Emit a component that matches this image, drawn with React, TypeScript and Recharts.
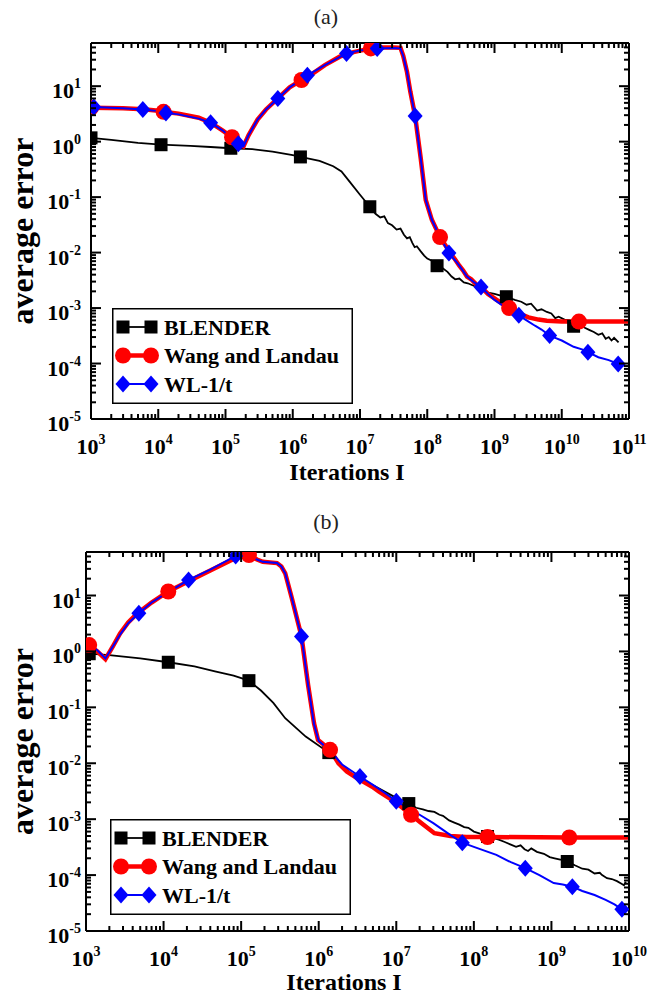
import React from 'react';
import { ComposedChart, Line, XAxis, YAxis, Legend, Label } from 'recharts';

type Pt = [number, number];

// axes
const xMajorA = [1e3, 1e4, 1e5, 1e6, 1e7, 1e8, 1e9, 1e10, 1e11];
const xMajorB = [1e3, 1e4, 1e5, 1e6, 1e7, 1e8, 1e9, 1e10];
const yMajor = [1e-5, 1e-4, 1e-3, 1e-2, 1e-1, 1, 10];
const yMax = 60;

const seriesNames = ['BLENDER', 'Wang and Landau', 'WL-1/t'];

// panel (a)
const blenderA: Pt[] = [
  [1e3, 1.17], [2e3, 1.08], [5e3, 0.95], [1.1e4, 0.88], [3e4, 0.84], [6e4, 0.8], [1.2e5, 0.76],
  [2.5e5, 0.73], [5e5, 0.66], [1e6, 0.57], [1.3e6, 0.53], [2.5e6, 0.45], [4e6, 0.36], [5.3e6, 0.29],
  [7e6, 0.19], [1e7, 0.11], [1.4e7, 0.067], [1.7e7, 0.05], [2e7, 0.043], [2.3e7, 0.045], [2.6e7, 0.034],
  [3e7, 0.031], [3.5e7, 0.026], [4e7, 0.027], [4.5e7, 0.021], [5e7, 0.018], [5.5e7, 0.019], [6e7, 0.015],
  [6.5e7, 0.0125], [7e7, 0.013], [8e7, 0.0105], [9e7, 0.0088], [1e8, 0.0078], [1.15e8, 0.0072],
  [1.4e8, 0.0058], [1.7e8, 0.0052], [2e8, 0.0045], [2.3e8, 0.0037], [2.6e8, 0.0033], [3e8, 0.0034],
  [3.5e8, 0.0029], [4e8, 0.0028], [5e8, 0.0025], [6e8, 0.0022], [7e8, 0.0021], [8e8, 0.0019],
  [1e9, 0.0018], [1.2e9, 0.0017], [1.5e9, 0.0016], [2e9, 0.0014], [2.5e9, 0.0013], [3e9, 0.00115],
  [3.5e9, 0.0012], [4.3e9, 0.0009], [5e9, 0.00095], [6e9, 0.00085], [7e9, 0.0008], [8e9, 0.00066],
  [9e9, 0.0007], [1.1e10, 0.00062], [1.3e10, 0.0006], [1.5e10, 0.00047], [1.8e10, 0.00052],
  [2.2e10, 0.00044], [2.6e10, 0.0004], [3e10, 0.00037], [3.5e10, 0.00033], [4e10, 0.00035],
  [4.5e10, 0.00028], [5e10, 0.0003], [5.5e10, 0.00026], [6e10, 0.00029], [7e10, 0.00024],
];
const blenderAMarks = [1e3, 1.1e4, 1.2e5, 1.3e6, 1.4e7, 1.4e8, 1.5e9, 1.5e10];

const wangA: Pt[] = [
  [1e3, 4.1], [3e3, 4.0], [6e3, 3.85], [1e4, 3.6], [1.2e4, 3.45], [2e4, 3.2], [4e4, 2.7], [6e4, 2.2],
  [9e4, 1.6], [1.25e5, 1.2], [1.6e5, 0.9], [1.85e5, 0.82], [2.2e5, 1.3], [3e5, 2.5], [4e5, 3.8],
  [6e5, 6.0], [9e5, 9.5], [1.35e6, 12.9], [2e6, 17], [3e6, 24], [5e6, 34], [8e6, 41], [1.45e7, 48],
  [2e7, 50], [3.2e7, 50], [4e7, 49], [4.4e7, 35], [5e7, 18], [5.6e7, 8], [6.6e7, 2.9], [8e7, 0.5],
  [9.5e7, 0.089], [1.17e8, 0.039], [1.55e8, 0.019], [1.9e8, 0.013], [2.2e8, 0.0098], [2.6e8, 0.0075],
  [3e8, 0.0058], [3.4e8, 0.0048], [3.9e8, 0.0037], [4.5e8, 0.0033], [5.3e8, 0.0027], [6.3e8, 0.0024],
  [8e8, 0.0018], [1e9, 0.0015], [1.3e9, 0.0012], [1.65e9, 0.001], [2.2e9, 0.00082], [3.2e9, 0.00068],
  [4.5e9, 0.00062], [6e9, 0.00059], [1e10, 0.00057], [1.8e10, 0.00057], [1e11, 0.00057],
];
const wangAMarks = [1e3, 1.2e4, 1.25e5, 1.35e6, 1.45e7, 1.55e8, 1.65e9, 1.8e10];

const wl1tA: Pt[] = [
  [1e3, 4.2], [1.1e3, 4.2], [3e3, 4.0], [5.9e3, 3.8], [1e4, 3.55], [1.3e4, 3.3], [2e4, 3.1], [4e4, 2.6],
  [6e4, 2.2], [9e4, 1.6], [1.25e5, 1.15], [1.55e5, 0.92], [1.85e5, 0.82], [2.2e5, 1.3], [3e5, 2.5],
  [4e5, 3.8], [6e5, 6.0], [9e5, 9.5], [1.3e6, 13], [1.65e6, 15.7], [3e6, 24], [6.3e6, 39], [1e7, 44],
  [1.8e7, 48], [3.2e7, 49], [4e7, 48], [4.4e7, 35], [5e7, 18], [5.6e7, 8], [6.6e7, 2.9], [8e7, 0.5],
  [9.5e7, 0.089], [1.17e8, 0.039], [1.55e8, 0.019], [2.1e8, 0.0098], [2.6e8, 0.0072], [3e8, 0.0058],
  [3.9e8, 0.0037], [5e8, 0.0029], [6.3e8, 0.0024], [8e8, 0.0018], [1e9, 0.0014], [1.5e9, 0.001],
  [2.3e9, 0.00074], [3e9, 0.0006], [4e9, 0.00048], [5e9, 0.00041], [6.6e9, 0.00032], [8e9, 0.00029],
  [1e10, 0.00026], [1.5e10, 0.0002], [2e10, 0.00018], [2.45e10, 0.00016], [3.5e10, 0.00013],
  [5e10, 0.000115], [6.9e10, 0.000098], [8.7e10, 0.000091],
];
const wl1tAMarks = [1.1e3, 5.9e3, 1.3e4, 6e4, 1.55e5, 6e5, 1.65e6, 6.3e6, 1.8e7, 6.6e7, 2.1e8, 6.3e8, 2.3e9, 6.6e9, 2.45e10, 6.9e10];

// panel (b)
const blenderB: Pt[] = [
  [1.1e3, 0.91], [2e3, 0.86], [5e3, 0.75], [1.15e4, 0.64], [2.5e4, 0.54], [4.6e4, 0.44], [8e4, 0.37],
  [1.26e5, 0.3], [1.8e5, 0.2], [2.6e5, 0.12], [3.7e5, 0.064], [6.8e5, 0.03], [1.35e6, 0.0155],
  [2.6e6, 0.0066], [4.9e6, 0.0041], [1e7, 0.0024], [1.45e7, 0.0019], [1.8e7, 0.0016], [2.2e7, 0.0015],
  [2.6e7, 0.0014], [3.1e7, 0.00135], [3.6e7, 0.0012], [4e7, 0.00115], [4.8e7, 0.00095], [5.6e7, 0.00087],
  [6.5e7, 0.0008], [7.5e7, 0.00072], [8.5e7, 0.0007], [1e8, 0.0006], [1.2e8, 0.00055], [1.5e8, 0.00049],
  [1.8e8, 0.00046], [2.1e8, 0.00043], [2.5e8, 0.00039], [3e8, 0.00035], [3.5e8, 0.00032], [4e8, 0.00034],
  [4.5e8, 0.00029], [5e8, 0.00027], [5.5e8, 0.0003], [6.5e8, 0.00026], [8e8, 0.00024], [9.5e8, 0.00021],
  [1.1e9, 0.0002], [1.3e9, 0.00019], [1.6e9, 0.000175], [2e9, 0.00015], [2.5e9, 0.00013], [3e9, 0.000125],
  [3.6e9, 0.000107], [4.2e9, 0.00011], [4.5e9, 0.0001], [5.2e9, 0.000088], [6e9, 0.000085],
  [7e9, 0.000078], [8e9, 0.00007], [8.6e9, 0.000066], [9.1e9, 0.000076],
];
const blenderBMarks = [1.1e3, 1.15e4, 1.26e5, 1.35e6, 1.45e7, 1.5e8, 1.6e9];

const wangB: Pt[] = [
  [1.1e3, 1.3], [1.4e3, 1.0], [1.78e3, 0.73], [2.2e3, 1.2], [2.75e3, 2.1], [3.5e3, 3.3], [4.5e3, 4.7],
  [7e3, 7.5], [1.15e4, 11.8], [2.1e4, 18], [4e4, 28], [8.5e4, 47], [1.26e5, 53], [1.6e5, 44], [1.9e5, 40],
  [2.9e5, 38], [3.3e5, 33], [3.7e5, 25], [4.5e5, 9], [6e5, 1.85], [7.3e5, 0.25], [8.7e5, 0.052],
  [9.8e5, 0.026], [1.4e6, 0.0174], [1.8e6, 0.01], [2.3e6, 0.0071], [3e6, 0.0056], [4.9e6, 0.0038],
  [6e6, 0.0031], [8.9e6, 0.0022], [1.2e7, 0.0016], [1.55e7, 0.0012], [2e7, 0.0009], [3.1e7, 0.00056],
  [5e7, 0.0005], [8e7, 0.00048], [1.5e8, 0.00048], [1.7e9, 0.00047], [1e10, 0.00047],
];
const wangBMarks = [1.1e3, 1.15e4, 1.26e5, 1.4e6, 1.55e7, 1.5e8, 1.7e9];

const wl1tB: Pt[] = [
  [1e3, 1.45], [1.4e3, 1.05], [1.78e3, 0.75], [2.2e3, 1.2], [2.75e3, 2.0], [3.5e3, 3.2], [4.8e3, 4.8],
  [7e3, 7.5], [1.15e4, 11.5], [2.1e4, 19], [4e4, 29], [8.5e4, 51], [1.26e5, 52], [1.6e5, 44], [1.9e5, 40],
  [2.9e5, 38], [3.3e5, 33], [3.7e5, 25], [4.5e5, 9], [6e5, 1.85], [7.3e5, 0.25], [8.7e5, 0.05],
  [1e6, 0.025], [1.4e6, 0.017], [2e6, 0.0095], [3.4e6, 0.0058], [5e6, 0.0041], [7e6, 0.003],
  [1e7, 0.0021], [1.4e7, 0.0016], [2e7, 0.0012], [3e7, 0.00085], [5e7, 0.00052], [7.1e7, 0.00038],
  [1e8, 0.00032], [1.95e8, 0.00023], [3e8, 0.00017], [4.6e8, 0.000133], [7e8, 0.0001], [1.07e9, 0.000072],
  [1.4e9, 0.000068], [1.86e9, 0.000062], [2.5e9, 0.000052], [3.6e9, 0.000044], [5e9, 0.000036],
  [6.5e9, 0.00003], [8.1e9, 0.0000245], [9.5e9, 0.000023],
];
const wl1tBMarks = [4.8e3, 2.1e4, 8.5e4, 6e5, 3.4e6, 1e7, 7.1e7, 4.6e8, 1.86e9, 8.1e9];

const FONT = "'Liberation Serif', 'Times New Roman', serif";
const W = 648;
const H = 498;

type Kind = 'square' | 'circle' | 'diamond';
const styles: Record<string, { stroke: string; width: number; kind: Kind }> = {
  BLENDER: { stroke: '#000000', width: 1.8, kind: 'square' },
  'Wang and Landau': { stroke: '#ff0000', width: 4.5, kind: 'circle' },
  'WL-1/t': { stroke: '#0000ff', width: 2, kind: 'diamond' },
};

const same = (a: number, b: number) => Math.abs(a / b - 1) < 1e-6;

function withMinors(majors: number[], max: number) {
  const out: number[] = [...majors];
  majors.forEach((m) => {
    for (let k = 2; k <= 9; k++) if (m * k <= max * 1.0001) out.push(m * k);
  });
  return out.sort((a, b) => a - b);
}

function Pow10({ x, y, v, anchor }: { x: number; y: number; v: number; anchor: string }) {
  const e = Math.round(Math.log10(v));
  return (
    <text x={x} y={y} textAnchor={anchor as any} fontFamily={FONT} fontWeight="bold" fontSize={22} fill="#000">
      10<tspan fontSize={14} dy={-10}>{String(e)}</tspan>
    </text>
  );
}

const tickFor = (side: string, majors: number[], labelRight = 0) => (props: any) => {
  const { x, y, payload } = props;
  const major = majors.some((m) => same(payload.value, m));
  const len = major ? 10 : 5;
  let x2 = x, y2 = y;
  if (side === 'bottom') y2 = y - len;
  if (side === 'top') y2 = y + len;
  if (side === 'left') x2 = x + len;
  if (side === 'right') x2 = x - len;
  return (
    <g>
      <line x1={x} y1={y} x2={x2} y2={y2} stroke="#000" strokeWidth={2} />
      {major && side === 'bottom' && <Pow10 x={x} y={y + 35} v={payload.value} anchor="middle" />}
      {major && side === 'left' && <Pow10 x={labelRight} y={y + 12} v={payload.value} anchor="end" />}
    </g>
  );
};

function Marker({ kind, cx, cy }: { kind: Kind; cx: number; cy: number }) {
  if (kind === 'square') return <rect x={cx - 6.5} y={cy - 6.5} width={13} height={13} fill="#000" />;
  if (kind === 'circle') return <circle cx={cx} cy={cy} r={8} fill="#ff0000" />;
  return <polygon points={`${cx},${cy - 8.5} ${cx + 7.5},${cy} ${cx},${cy + 8.5} ${cx - 7.5},${cy}`} fill="#0000ff" />;
}

const dotFor = (kind: Kind, marks: number[]) => (p: any) =>
  marks.some((m) => same(p.payload.x, m)) ? (
    <Marker key={`m${p.index}`} kind={kind} cx={p.cx} cy={p.cy} />
  ) : (
    <g key={`m${p.index}`} />
  );

const LegendBox = ({ payload }: any) => {
  const items = [...(payload || [])].sort((a: any, b: any) => seriesNames.indexOf(a.value) - seriesNames.indexOf(b.value));
  return (
    <svg width={241} height={96} style={{ display: 'block' }}>
      <rect x={0.75} y={0.75} width={239.5} height={94.5} fill="#fff" stroke="#000" strokeWidth={1.5} />
      {items.map((e: any, i: number) => {
        const st = styles[e.value];
        const cy = 19 + i * 28.5;
        return (
          <g key={e.value}>
            <line x1={9} x2={40} y1={cy} y2={cy} stroke={st.stroke} strokeWidth={st.width} />
            <Marker kind={st.kind} cx={11} cy={cy} />
            <Marker kind={st.kind} cx={39} cy={cy} />
            <text x={52} y={cy + 7.5} fontFamily={FONT} fontWeight="bold" fontSize={22} fill="#000">
              {e.value}
            </text>
          </g>
        );
      })}
    </svg>
  );
};

type PanelProps = {
  xMajor: number[];
  plot: { l: number; r: number; t: number; b: number };
  series: Pt[][];
  marks: number[][];
  legendAt: { left: number; top: number };
  xLabelX: number;
  xLabelDy: number;
};

function Panel({ xMajor, plot, series, marks, legendAt, xLabelX, xLabelDy }: PanelProps) {
  const margin = { left: plot.l - 60, right: W - plot.r - 10, top: plot.t - 10, bottom: H - plot.b - 60 };
  const xTicks = withMinors(xMajor, xMajor[xMajor.length - 1]);
  const yTicks = withMinors(yMajor, yMax);
  const xDomain = [xMajor[0], xMajor[xMajor.length - 1]];
  const axisLine = { stroke: '#000', strokeWidth: 2 };
  const common = { type: 'number' as const, scale: 'log' as const, allowDataOverflow: true, interval: 0 as const, tickSize: 0, tickMargin: 0, tickLine: false, axisLine };
  return (
    <ComposedChart width={W} height={H} margin={margin}>
      <XAxis xAxisId="b" dataKey="x" domain={xDomain} ticks={xTicks} height={60} tick={tickFor('bottom', xMajor)} {...common}>
        <Label
          content={(p: any) => (
            <text x={xLabelX} y={p.viewBox.y + xLabelDy} textAnchor="middle" fontFamily={FONT} fontWeight="bold" fontSize={24} fill="#000">
              Iterations I
            </text>
          )}
        />
      </XAxis>
      <XAxis xAxisId="t" orientation="top" dataKey="x" domain={xDomain} ticks={xTicks} height={10} tick={tickFor('top', xMajor)} {...common} />
      <YAxis yAxisId="l" dataKey="y" domain={[yMajor[0], yMax]} ticks={yTicks} width={60} tick={tickFor('left', yMajor, 81)} {...common}>
        <Label
          content={(p: any) => {
            const cy = p.viewBox.y + p.viewBox.height / 2;
            return (
              <text x={33} y={cy} transform={`rotate(-90, 33, ${cy})`} textAnchor="middle" fontFamily={FONT} fontWeight="bold" fontSize={32} fill="#000">
                average error
              </text>
            );
          }}
        />
      </YAxis>
      <YAxis yAxisId="r" orientation="right" dataKey="y" domain={[yMajor[0], yMax]} ticks={yTicks} width={10} tick={tickFor('right', yMajor)} {...common} />
      {seriesNames.map((name, i) => (
        <Line
          key={name}
          xAxisId="b"
          yAxisId="l"
          name={name}
          data={series[i].map(([x, y]) => ({ x, y }))}
          dataKey="y"
          type="linear"
          stroke={styles[name].stroke}
          strokeWidth={styles[name].width}
          dot={dotFor(styles[name].kind, marks[i])}
          activeDot={false}
          isAnimationActive={false}
        />
      ))}
      <Legend
        layout="vertical"
        align="center"
        verticalAlign="middle"
        content={LegendBox}
        wrapperStyle={{ left: legendAt.left, top: legendAt.top, width: 241, height: 96 }}
      />
    </ComposedChart>
  );
}

const titleStyle: React.CSSProperties = {
  position: 'absolute',
  left: 0,
  width: 652,
  textAlign: 'center',
  fontFamily: FONT,
  fontSize: 22,
  lineHeight: '24px',
  color: '#222',
};

export default function App() {
  return (
    <div style={{ position: 'absolute', left: 0, top: 0, width: W, height: 996, background: '#fff' }}>
      <div style={{ ...titleStyle, top: 5 }}>(a)</div>
      <div style={{ position: 'absolute', left: 0, top: 0 }}>
        <Panel
          xMajor={xMajorA}
          plot={{ l: 91, r: 629, t: 43, b: 419 }}
          series={[blenderA, wangA, wl1tA]}
          marks={[blenderAMarks, wangAMarks, wl1tAMarks]}
          legendAt={{ left: 112, top: 308 }}
          xLabelX={347}
          xLabelDy={61}
        />
      </div>
      <div style={{ ...titleStyle, top: 510 }}>(b)</div>
      <div style={{ position: 'absolute', left: 0, top: H }}>
        <Panel
          xMajor={xMajorB}
          plot={{ l: 86, r: 629, t: 54, b: 433 }}
          series={[blenderB, wangB, wl1tB]}
          marks={[blenderBMarks, wangBMarks, wl1tBMarks]}
          legendAt={{ left: 110, top: 321 }}
          xLabelX={344}
          xLabelDy={59}
        />
      </div>
    </div>
  );
}
